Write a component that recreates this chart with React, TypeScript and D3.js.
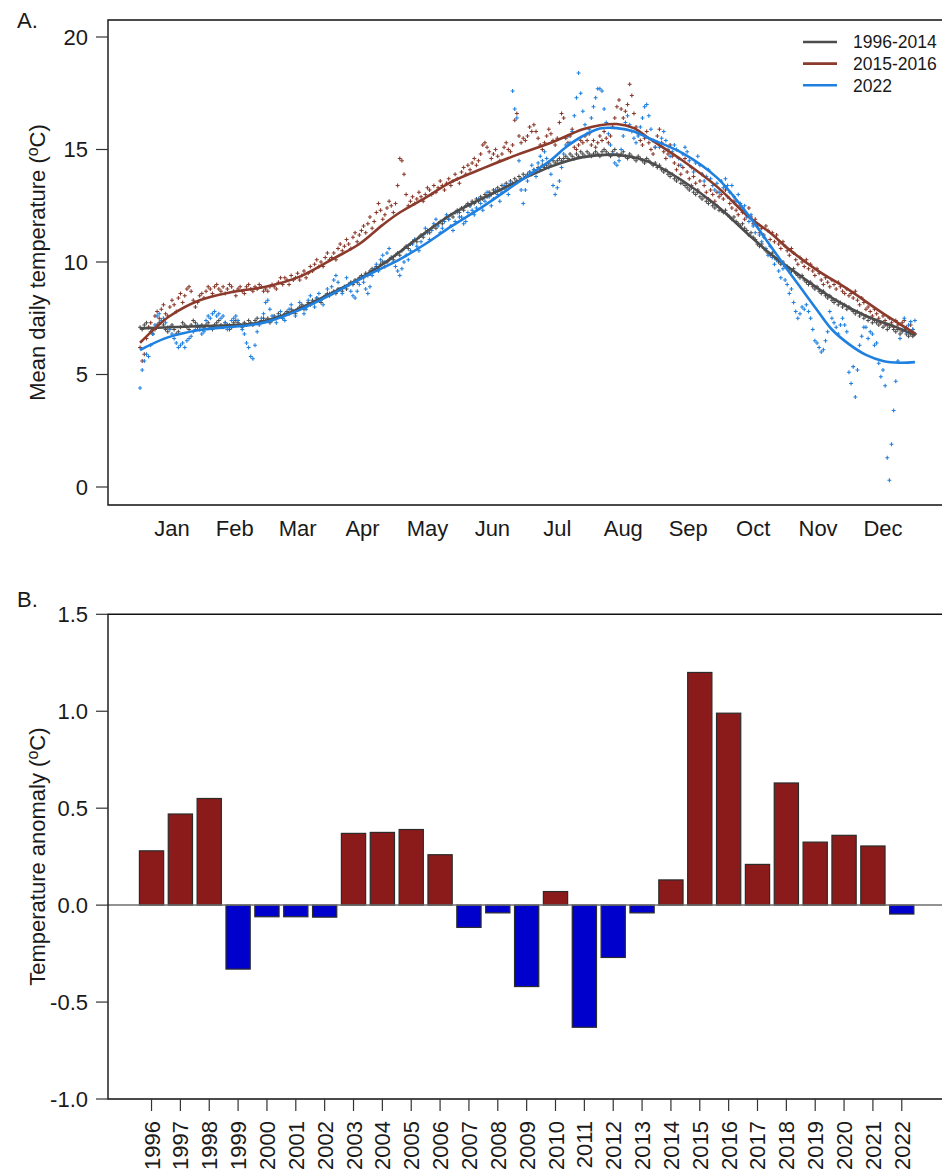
import React from "react";
import * as d3 from "d3";

// ---------- Panel A: mean daily temperature ----------
const MONTHS = ["Jan", "Feb", "Mar", "Apr", "May", "Jun", "Jul", "Aug", "Sep", "Oct", "Nov", "Dec"];
const MONTH_LENGTHS = [31, 28, 31, 30, 31, 30, 31, 31, 30, 31, 30, 31];
const TEMP_TICKS = [0, 5, 10, 15, 20];

const SERIES_NAMES = ["1996-2014", "2015-2016", "2022"];

// Daily means, 1996-2014 climatology
const daily19962014 = [
  7.1,7.0,7.2,7.3,7.1,6.9,6.8,7.0,7.2,7.3,7.4,7.2,7.0,6.9,7.1,7.2,7.0,6.8,6.9,7.1,7.3,7.2,7.1,7.0,7.2,7.4,7.3,7.1,7.0,7.2,7.1,
  7.2,7.3,7.1,7.0,7.2,7.3,7.4,7.2,7.1,7.3,7.2,7.0,7.1,7.3,7.4,7.3,7.2,7.1,7.3,7.2,7.4,7.3,7.2,7.4,7.5,7.3,7.4,7.5,
  7.4,7.5,7.3,7.4,7.6,7.5,7.7,7.6,7.5,7.7,7.8,7.7,7.9,7.8,7.7,7.9,8.0,8.1,7.9,8.0,8.2,8.1,8.3,8.2,8.4,8.3,8.2,8.4,8.5,8.6,8.5,
  8.6,8.7,8.6,8.8,8.8,8.7,8.9,8.8,9.0,9.1,9.0,9.2,9.1,9.3,9.4,9.3,9.5,9.4,9.6,9.7,9.6,9.8,9.7,9.9,10.0,9.8,10.0,10.1,10.2,10.1,
  10.3,10.4,10.3,10.5,10.6,10.7,10.6,10.8,10.9,11.0,10.9,11.1,11.2,11.1,11.3,11.4,11.3,11.5,11.6,11.5,11.7,11.8,11.7,11.9,12.0,11.9,12.1,12.0,12.2,12.3,12.2,
  12.4,12.3,12.5,12.6,12.5,12.7,12.6,12.8,12.7,12.9,12.8,13.0,12.9,13.1,13.0,13.2,13.1,13.3,13.2,13.4,13.3,13.5,13.4,13.6,13.5,13.7,13.6,13.8,13.7,13.9,
  13.8,13.9,14.0,13.9,14.1,14.0,14.2,14.1,14.3,14.2,14.3,14.4,14.3,14.5,14.4,14.5,14.6,14.5,14.6,14.7,14.6,14.8,14.7,14.6,14.8,14.7,14.9,14.8,14.7,14.9,14.8,
  14.7,14.8,14.9,14.8,14.7,14.9,15.0,14.9,14.8,14.7,14.9,15.0,14.8,14.7,14.8,14.9,14.7,14.6,14.8,14.7,14.6,14.5,14.7,14.6,14.5,14.4,14.6,14.5,14.4,14.3,14.4,
  14.2,14.3,14.1,14.0,14.1,13.9,13.8,13.9,13.7,13.6,13.7,13.5,13.5,13.4,13.3,13.2,13.3,13.1,13.0,13.1,12.9,12.8,12.9,12.7,12.6,12.7,12.5,12.4,12.5,12.3,
  12.3,12.2,12.3,12.1,12.0,11.9,12.0,11.8,11.7,11.6,11.7,11.5,11.4,11.2,11.3,11.1,11.0,10.8,10.7,10.8,10.6,10.5,10.4,10.3,10.4,10.2,10.1,10.0,9.9,10.0,9.8,
  9.8,9.7,9.6,9.7,9.5,9.4,9.3,9.4,9.2,9.1,9.0,9.1,8.9,8.8,8.9,8.7,8.6,8.7,8.5,8.4,8.5,8.3,8.2,8.3,8.1,8.2,8.0,8.1,7.9,8.0,
  7.9,7.8,7.7,7.8,7.6,7.7,7.5,7.6,7.4,7.5,7.3,7.4,7.3,7.2,7.3,7.1,7.2,7.0,7.1,7.2,7.0,6.9,7.0,6.8,6.9,7.0,6.8,6.7,6.8,6.7,6.8,
];

// Daily means, 2015-2016
const daily20152016 = [
  6.2,5.6,5.9,6.6,7.1,7.3,7.0,7.6,7.8,7.5,7.9,8.1,7.7,7.6,8.0,8.3,8.1,7.8,8.4,8.6,8.2,8.5,8.8,8.9,8.7,8.3,8.0,8.2,8.5,8.6,8.4,
  8.7,8.9,8.8,8.6,8.9,9.0,8.8,8.7,8.9,8.6,8.8,9.0,8.9,8.7,8.5,8.8,8.9,8.7,8.6,8.9,9.0,8.8,8.7,8.9,8.8,9.0,8.9,8.7,
  8.8,8.7,8.9,9.0,8.9,8.8,9.1,9.3,9.0,9.3,9.2,9.0,9.4,9.2,9.3,9.5,9.2,9.4,9.6,9.3,9.5,9.8,9.6,9.9,10.1,9.8,10.0,9.8,10.2,10.4,10.1,
  10.2,10.4,10.1,10.6,10.8,10.5,10.7,11.0,10.8,10.6,11.1,11.3,10.9,11.2,11.4,11.6,11.3,11.7,12.0,11.5,11.8,12.2,12.6,12.3,11.9,12.1,12.4,12.7,12.5,12.2,
  12.6,13.4,14.6,14.5,13.9,13.0,12.5,12.7,12.9,12.6,12.8,13.1,12.9,12.7,13.0,13.3,13.2,13.0,13.4,13.1,13.3,13.6,13.4,13.2,13.5,13.7,13.4,13.6,13.9,13.7,13.5,
  14.0,14.2,13.9,14.3,14.1,14.4,14.6,14.3,14.5,14.8,15.2,15.3,15.1,14.9,14.6,14.8,15.0,14.7,14.5,14.8,15.1,15.3,15.0,14.9,15.2,16.3,16.6,15.6,15.3,15.5,
  15.4,15.6,16.0,15.8,16.1,15.8,15.5,15.2,15.0,15.3,15.6,15.9,15.7,15.4,15.2,15.5,16.2,16.6,16.4,15.5,15.3,15.6,15.9,15.1,15.0,15.2,15.4,15.3,15.6,15.4,15.7,
  15.2,15.4,15.1,15.3,15.6,15.4,15.8,15.5,15.3,15.6,16.0,16.4,16.9,17.2,16.8,16.4,16.7,17.0,17.9,17.4,16.6,16.0,15.7,15.4,15.2,15.5,15.8,15.3,15.0,14.8,15.1,
  15.6,15.9,15.3,14.9,14.6,14.8,15.2,14.7,14.4,14.1,14.3,13.9,14.2,14.6,14.0,13.7,13.4,13.8,13.5,13.2,13.6,13.9,13.4,13.1,12.8,13.2,13.0,12.7,13.1,12.9,
  13.0,12.8,13.2,12.9,12.6,12.4,12.7,12.3,12.1,12.5,12.2,11.9,12.1,12.4,12.0,11.7,11.9,11.6,11.3,11.5,11.2,11.6,11.4,11.0,11.3,10.9,11.2,10.8,10.6,10.9,10.7,
  10.5,10.3,10.6,10.4,10.1,9.9,10.2,10.0,9.8,10.1,9.7,9.9,9.6,9.4,9.7,9.5,9.2,9.0,9.3,9.1,8.9,9.2,9.0,8.8,9.1,8.9,8.7,8.6,8.8,8.5,
  8.6,8.4,8.7,8.3,8.1,8.4,8.2,7.9,8.0,7.8,7.6,7.9,7.7,7.5,7.3,7.6,7.4,7.2,7.5,7.3,7.1,7.4,7.2,7.0,7.3,7.4,7.1,6.9,7.2,7.0,6.8,
];

// Daily means, 2022
const daily2022 = [
  4.4,5.2,5.6,5.9,5.8,6.3,6.8,7.2,7.6,7.7,7.4,7.5,7.3,7.1,7.0,6.8,6.6,6.4,6.2,6.3,6.4,6.2,6.5,6.6,6.7,6.9,7.0,7.2,7.1,6.8,6.9,
  7.4,7.6,7.5,7.7,7.8,7.6,7.7,7.5,7.6,7.3,7.0,7.2,7.4,7.5,7.6,7.4,7.2,7.0,6.8,6.4,6.2,5.8,5.7,6.3,6.9,7.2,7.5,7.7,
  8.2,8.3,7.9,7.6,7.5,7.3,7.6,7.8,7.5,7.4,7.7,7.9,8.1,7.8,7.6,7.9,8.2,8.0,7.7,7.9,8.3,8.5,8.2,8.0,8.4,8.6,8.3,8.1,8.5,8.8,8.6,
  8.9,9.2,9.4,9.1,8.8,8.6,8.9,9.3,9.0,8.7,8.5,8.4,8.7,9.0,9.3,9.1,8.8,8.6,8.9,9.4,9.7,9.9,9.6,10.1,10.3,10.0,10.4,10.6,10.2,10.0,
  9.8,9.6,9.4,9.7,10.0,10.3,10.1,10.5,10.8,11.0,10.7,10.5,10.9,11.2,11.5,11.3,11.0,11.4,11.7,11.9,11.6,11.3,11.5,11.8,12.1,11.9,11.6,11.4,11.8,12.2,12.0,
  12.0,11.7,11.8,12.2,12.5,12.3,12.1,12.4,12.8,12.6,12.3,12.7,13.1,12.9,12.5,12.8,13.2,13.0,12.7,13.1,13.4,13.2,13.0,13.5,17.6,16.8,16.4,14.5,13.2,12.6,
  13.2,13.6,14.0,14.3,14.1,13.8,14.4,14.7,14.5,14.9,14.6,14.2,13.9,13.4,13.0,13.3,13.6,14.2,14.8,15.2,15.6,15.3,15.8,16.5,17.3,18.4,17.5,16.7,16.1,15.7,15.9,
  16.4,16.9,17.3,17.7,17.7,17.6,16.8,16.2,15.7,15.2,14.8,14.4,14.3,14.5,15.0,15.6,16.2,16.5,16.1,15.8,15.5,15.3,15.6,16.0,16.4,16.9,17.0,16.5,15.9,15.4,15.1,
  15.3,15.1,15.5,15.8,15.4,15.0,14.7,14.9,15.2,15.0,14.6,14.3,14.8,15.1,14.9,14.5,14.2,14.0,14.4,14.7,14.3,13.9,13.6,13.8,14.1,13.7,13.4,13.2,13.5,13.1,
  13.6,13.3,13.7,13.4,13.1,13.4,12.9,12.7,13.0,12.6,12.3,12.5,12.0,11.8,12.1,11.6,11.3,11.7,11.2,10.9,11.1,10.6,10.3,10.7,10.2,9.9,10.1,9.6,9.3,9.7,9.2,
  9.0,8.6,8.8,8.2,7.8,7.5,7.7,8.0,7.9,8.1,7.8,7.5,7.0,6.5,6.4,6.2,6.0,6.1,6.5,6.9,7.8,7.5,7.3,7.1,6.8,7.2,7.5,7.2,6.9,5.1,
  4.6,5.35,4.0,5.2,6.3,6.7,7.1,7.1,6.6,6.9,6.8,6.3,6.4,5.5,4.9,5.2,4.5,1.3,0.3,1.9,3.4,4.7,5.6,6.6,7.0,7.5,6.9,7.2,7.35,7.0,7.4,
];

// Smoothed seasonal curves: [day of year, temperature]
const fit19962014: [number, number][] = [
  [1, 7.05], [15, 7.1], [30, 7.15], [45, 7.2], [55, 7.28], [68, 7.62], [84, 8.3], [100, 9.05],
  [115, 9.9], [130, 10.95], [147, 12.1], [170, 13.2], [194, 14.24], [209, 14.66], [225, 14.76],
  [240, 14.45], [256, 13.6], [272, 12.5], [287, 11.2], [298, 10.3], [311, 9.4], [327, 8.35],
  [342, 7.6], [355, 7.15], [365, 6.75],
];
const fit20152016: [number, number][] = [
  [1, 6.41], [8, 7.05], [15, 7.6], [29, 8.3], [45, 8.68], [60, 8.9], [76, 9.35], [92, 10.16],
  [104, 10.8], [115, 11.65], [123, 12.2], [135, 12.85], [147, 13.55], [162, 14.16], [178, 14.76],
  [194, 15.3], [209, 15.9], [217, 16.08], [225, 16.13], [233, 15.95], [240, 15.5], [256, 14.5],
  [272, 13.35], [287, 12.0], [297, 11.3], [306, 10.55], [319, 9.64], [334, 8.76], [350, 7.72],
  [365, 6.83],
];
const fit2022: [number, number][] = [
  [1, 6.09], [14, 6.65], [29, 6.98], [45, 7.12], [53, 7.2], [61, 7.35], [76, 7.87], [92, 8.61],
  [108, 9.42], [123, 10.12], [135, 10.8], [147, 11.57], [162, 12.46], [178, 13.5], [194, 14.53],
  [201, 15.1], [209, 15.6], [217, 15.93], [225, 15.95], [233, 15.8], [240, 15.5], [256, 14.83],
  [272, 13.75], [287, 12.05], [298, 10.6], [304, 9.8], [311, 8.9], [319, 7.87], [326, 7.0],
  [334, 6.35], [342, 5.87], [350, 5.6], [358, 5.52], [365, 5.55],
];

// ---------- Panel B: annual temperature anomaly ----------
const ANOMALY_YEARS = [
  "1996", "1997", "1998", "1999", "2000", "2001", "2002", "2003", "2004", "2005", "2006", "2007", "2008",
  "2009", "2010", "2011", "2012", "2013", "2014", "2015", "2016", "2017", "2018", "2019", "2020", "2021", "2022",
];
const ANOMALY_VALUES = [
  0.28, 0.47, 0.55, -0.33, -0.06, -0.06, -0.062, 0.37, 0.375, 0.39, 0.26, -0.115, -0.04,
  -0.42, 0.07, -0.63, -0.27, -0.04, 0.13, 1.2, 0.99, 0.21, 0.63, 0.325, 0.36, 0.305, -0.046,
];
const ANOMALY_TICKS = [-1.0, -0.5, 0.0, 0.5, 1.0, 1.5];

const COLORS = ["#4d4d4d", "#8b3a2c", "#1f80e0"];
const WARM = "#8b1a1a";
const COOL = "#0000cd";
const FONT = "'Liberation Sans', Arial, Helvetica, sans-serif";
const INK = "#1a1a1a";

const W = 942;
const H = 1174;

function Plus({ cx, cy, color }: { cx: number; cy: number; color: string }) {
  return <path d={`M${cx - 2},${cy}H${cx + 2}M${cx},${cy - 2}V${cy + 2}`} stroke={color} strokeWidth={1.1} />;
}

function DegC() {
  return (
    <>
      <tspan>(</tspan>
      <tspan dy="-0.45em" fontSize="0.72em">o</tspan>
      <tspan dy="0.32em">C)</tspan>
    </>
  );
}

export default function App() {
  // Panel A geometry
  const aLeft = 108, aTop = 20, aBottom = 505;
  const x = d3.scaleLinear().domain([0, 365]).range([139, 916]);
  const yA = d3.scaleLinear().domain([0, 20]).range([487, 37]);
  const bounds = d3.cumsum([0, ...MONTH_LENGTHS]);

  const dailySeries = [daily19962014, daily20152016, daily2022];
  const fits = [fit19962014, fit20152016, fit2022];
  const line = d3
    .line<[number, number]>()
    .x((d) => x(d[0] - 0.5))
    .y((d) => yA(d[1]))
    .curve(d3.curveCatmullRom.alpha(0.5));

  // Panel B geometry
  const bLeft = 108, bTop = 614.3, bBottom = 1099;
  const yB = d3.scaleLinear().domain([-1, 1.5]).range([bBottom, bTop]);
  const xB = d3.scaleBand<string>().domain(ANOMALY_YEARS).range([137.1, 916.2]).paddingInner(0.16).paddingOuter(0.08);

  return (
    <svg
      width={W}
      height={H}
      viewBox={`0 0 ${W} ${H}`}
      style={{ position: "absolute", left: 0, top: 0, background: "#fff" }}
      fontFamily={FONT}
    >
      <rect width={W} height={H} fill="#fff" />

      {/* ---------- Panel A ---------- */}
      <text x={17} y={28} fontSize={22} fill={INK}>A.</text>

      {/* points */}
      {dailySeries.map((vals, s) => (
        <g key={`pts-${s}`}>
          {vals.map((v, i) => (
            <Plus key={i} cx={x(i + 0.5)} cy={yA(v)} color={COLORS[s]} />
          ))}
        </g>
      ))}

      {/* smoothed curves */}
      {fits.map((f, s) => (
        <path key={`fit-${s}`} d={line(f) || ""} fill="none" stroke={COLORS[s]} strokeWidth={2.6} />
      ))}

      {/* frame */}
      <path d={`M${W + 5},${aTop}H${aLeft}V${aBottom}H${W + 5}`} fill="none" stroke="#111" strokeWidth={1.4} />

      {/* y axis */}
      {TEMP_TICKS.map((t) => (
        <g key={`ya-${t}`}>
          <line x1={96} x2={aLeft} y1={yA(t)} y2={yA(t)} stroke="#333" strokeWidth={1.2} />
          <text x={88} y={yA(t)} dy="0.36em" textAnchor="end" fontSize={22} fill={INK}>{t}</text>
        </g>
      ))}
      <text transform={`translate(45,${(aTop + aBottom) / 2}) rotate(-90)`} textAnchor="middle" fontSize={22} fill={INK}>
        Mean daily temperature <DegC />
      </text>

      {/* month axis */}
      {bounds.map((b, i) => (
        <line key={`mt-${i}`} x1={x(b)} x2={x(b)} y1={aBottom} y2={aBottom + 12} stroke="#333" strokeWidth={1.2} />
      ))}
      {MONTHS.map((m, i) => (
        <text key={m} x={(x(bounds[i]) + x(bounds[i + 1])) / 2} y={536} textAnchor="middle" fontSize={22} fill={INK}>
          {m}
        </text>
      ))}

      {/* legend */}
      {SERIES_NAMES.map((n, i) => (
        <g key={n}>
          <line x1={803} x2={837} y1={42 + i * 21.6} y2={42 + i * 21.6} stroke={COLORS[i]} strokeWidth={2.6} />
          <text x={853} y={42 + i * 21.6} dy="0.36em" fontSize={17.5} fill={INK}>{n}</text>
        </g>
      ))}

      {/* ---------- Panel B ---------- */}
      <text x={17} y={607} fontSize={22} fill={INK}>B.</text>

      {ANOMALY_YEARS.map((yr, i) => {
        const v = ANOMALY_VALUES[i];
        const y0 = yB(Math.max(0, v));
        const h = Math.abs(yB(v) - yB(0));
        return (
          <rect
            key={yr}
            x={xB(yr)}
            y={y0}
            width={xB.bandwidth()}
            height={h}
            fill={v >= 0 ? WARM : COOL}
            stroke="#2b2b2b"
            strokeWidth={1.2}
          />
        );
      })}

      <line x1={bLeft} x2={W + 5} y1={yB(0)} y2={yB(0)} stroke="#6e6e6e" strokeWidth={1.5} />
      <path d={`M${W + 5},${bTop}H${bLeft}V${bBottom}H${W + 5}`} fill="none" stroke="#111" strokeWidth={1.4} />

      {ANOMALY_TICKS.map((t) => (
        <g key={`yb-${t}`}>
          <line x1={96} x2={bLeft} y1={yB(t)} y2={yB(t)} stroke="#333" strokeWidth={1.2} />
          <text x={88} y={yB(t)} dy="0.36em" textAnchor="end" fontSize={22} fill={INK}>{t.toFixed(1)}</text>
        </g>
      ))}
      <text transform={`translate(45,${(bTop + bBottom) / 2}) rotate(-90)`} textAnchor="middle" fontSize={22} fill={INK}>
        Temperature anomaly <DegC />
      </text>

      {ANOMALY_YEARS.map((yr) => {
        const cx = (xB(yr) as number) + xB.bandwidth() / 2;
        return (
          <g key={`xt-${yr}`}>
            <line x1={cx} x2={cx} y1={bBottom} y2={bBottom + 12} stroke="#333" strokeWidth={1.2} />
            <text transform={`translate(${cx + 8},1121) rotate(-90)`} textAnchor="end" fontSize={22} fill={INK}>
              {yr}
            </text>
          </g>
        );
      })}
    </svg>
  );
}
